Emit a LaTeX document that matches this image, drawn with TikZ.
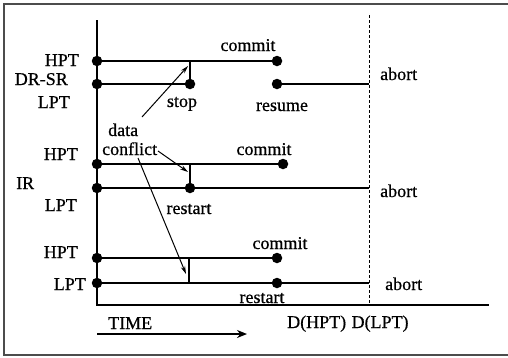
\documentclass[tikz,border=0pt]{standalone}
\usepackage{fontspec}
\setmainfont{Liberation Serif}
\newfontfamily\lblfont{Liberation Serif}[FakeBold=0.6]
\usetikzlibrary{arrows.meta}
\begin{document}
\begin{tikzpicture}[x=1pt,y=-1pt,
  dot/.style={circle,fill=black,inner sep=0pt,minimum size=10.5pt},
  lbl/.style={anchor=base,font=\lblfont\fontsize{18}{20}\selectfont,inner sep=0pt},
  lblw/.style={lbl,anchor=base west},
  lble/.style={lbl,anchor=base east},
  tl/.style={line width=1.4pt},
  tick/.style={line width=1.1pt},
  arr/.style={line width=1pt,-{Stealth[length=8pt,width=4.5pt]}},
  frame/.style={line width=1.4pt,draw=black!70}]
\useasboundingbox (0,0) rectangle (508,357);
% frame
\draw[frame] (508,4) -- (4,4) -- (4,355) -- (508,355);
% axes
\coordinate (ytop) at (97,20);
\coordinate (orig) at (97,305);
\coordinate (xend) at (489,305);
\draw[tl] (ytop) -- (orig) -- (xend);
\coordinate (dtop) at (369,15);
\coordinate (dbot) at (369,305);
\draw[line width=0.6pt,densely dashed] (dtop) -- (dbot);
% group 1 (DR-SR)
\node[dot] (a1) at (97,61) {};
\node[dot] (a2) at (277,61) {};
\node[dot] (b1) at (97,84) {};
\node[dot] (b2) at (190,84) {};
\node[dot] (b3) at (277,84) {};
\coordinate (b4) at (369,84);
\coordinate (t1) at (190,61);
\draw[tl] (a1) -- (a2);
\draw[tl] (b1) -- (b2);
\draw[tl] (b3) -- (b4);
\draw[tick] (t1) -- (b2);
% group 2 (IR)
\node[dot] (c1) at (97,164) {};
\node[dot] (c2) at (283,164) {};
\node[dot] (d1) at (97,188) {};
\node[dot] (d2) at (190,188) {};
\coordinate (d3) at (369,188);
\coordinate (t2) at (190,164);
\draw[tl] (c1) -- (c2);
\draw[tl] (d1) -- (d3);
\draw[tick] (t2) -- (d2);
% group 3
\node[dot] (e1) at (97,258) {};
\node[dot] (e2) at (277,258) {};
\node[dot] (f1) at (97,283) {};
\node[dot] (f2) at (277,283) {};
\coordinate (f3) at (369,283);
\coordinate (t3a) at (189,258);
\coordinate (t3b) at (189,283);
\draw[tl] (e1) -- (e2);
\draw[tl] (f1) -- (f3);
\draw[tick] (t3a) -- (t3b);
% data conflict arrows
\coordinate (s1) at (142,117);
\coordinate (h1) at (188,66);
\coordinate (s2) at (158,151);
\coordinate (h2) at (188,172);
\coordinate (s3) at (138,158);
\coordinate (h3) at (186,274);
\draw[arr] (s1) -- (h1);
\draw[arr] (s2) -- (h2);
\draw[arr] (s3) -- (h3);
% labels
\node[lble] (lh1) at (79,66) {HPT};
\node[lble] (ldr) at (68,85) {DR-SR};
\node[lble] (ll1) at (70,108) {LPT};
\node[lbl] (lstop) at (182,107) {stop};
\node[lbl] (lcom1) at (248,51) {commit};
\node[lbl] (lres) at (282,111) {resume};
\node[lblw] (lab1) at (380,80) {abort};
\node[lblw] (ldata) at (108,136) {data};
\node[lblw] (lconf) at (102,155) {conflict};
\node[lble] (lh2) at (78,160) {HPT};
\node[lbl] (lcom2) at (264,155) {commit};
\node[lblw] (lir) at (16,189) {IR};
\node[lble] (ll2) at (77,211) {LPT};
\node[lbl] (lrs2) at (189,214) {restart};
\node[lblw] (lab2) at (380,197) {abort};
\node[lble] (lh3) at (78,258) {HPT};
\node[lbl] (lcom3) at (280,249) {commit};
\node[lble] (ll3) at (86,290) {LPT};
\node[lbl] (lrs3) at (262,303) {restart};
\node[lblw] (lab3) at (385,290) {abort};
\node[lblw] (ltime) at (108,329) {TIME};
\node[lblw] (ld) at (287,328) {D(HPT)\hspace{0.3em}D(LPT)};
% time arrow
\coordinate (ta) at (97,334);
\coordinate (tb) at (247,334);
\draw[line width=2.4pt,-{Stealth[length=10pt,width=8pt]}] (ta) -- (tb);
\end{tikzpicture}
\end{document}
